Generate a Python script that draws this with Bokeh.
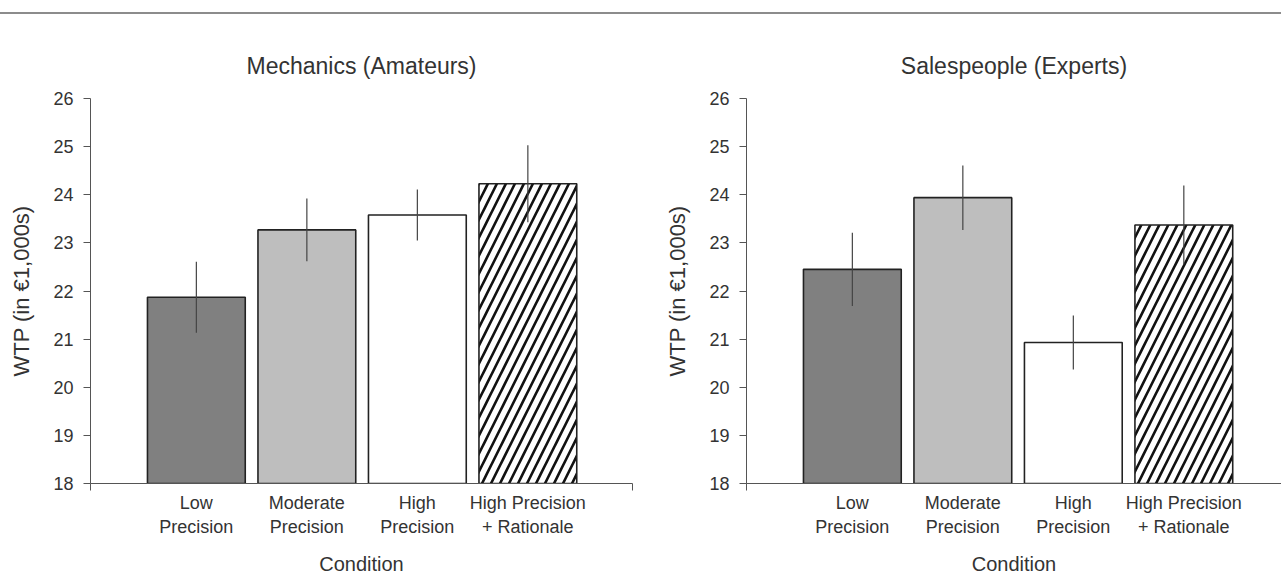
from bokeh.plotting import figure
from bokeh.models import Range1d, FixedTicker, Div, ColumnDataSource
from bokeh.layouts import row, column
from bokeh.embed import file_html
from bokeh.resources import INLINE

# ---- data ----
conditions = ["Low\nPrecision", "Moderate\nPrecision", "High\nPrecision", "High Precision\n+ Rationale"]
positions = [1, 2, 3, 4]
mech_wtp = [21.87, 23.27, 23.58, 24.23]
mech_err = [0.74, 0.65, 0.53, 0.80]
sales_wtp = [22.45, 23.94, 20.93, 23.37]
sales_err = [0.76, 0.67, 0.56, 0.82]
bar_fills = ["#808080", "#bebebe", "#ffffff", "#ffffff"]
bar_hatch = [" ", " ", " ", "/"]
y_ticks = [18, 19, 20, 21, 22, 23, 24, 25, 26]

FONT = "'Liberation Sans', Arial, sans-serif"
X_START = 0.042
AXIS_COLOR = "#555555"
TEXT_COLOR = "#333333"


def make_panel(title, wtp, err, width, x_end, right_border, end_tick):
    src = ColumnDataSource(dict(
        x=positions, top=wtp,
        lo=[m - e for m, e in zip(wtp, err)],
        hi=[m + e for m, e in zip(wtp, err)],
        fill=bar_fills, hatch=bar_hatch,
    ))
    p = figure(width=width, height=563,
               x_range=Range1d(X_START, x_end), y_range=Range1d(18, 26),
               output_backend="svg", toolbar_location=None,
               min_border_left=90, min_border_right=right_border,
               min_border_top=84, min_border_bottom=94)
    p.outline_line_color = None
    p.grid.visible = False
    p.background_fill_color = "white"

    p.vbar(x="x", top="top", bottom=18, width=0.885, source=src,
           fill_color="fill", line_color="#222222", line_width=1.6,
           hatch_pattern="hatch", hatch_color="#111111", hatch_scale=18,
           hatch_weight=2.6)
    p.segment(x0="x", y0="lo", x1="x", y1="hi", source=src,
              line_color="#444444", line_width=1.2)

    p.title.text = title
    p.title.align = "center"
    p.title.text_font = FONT
    p.title.text_font_size = "23px"
    p.title.text_font_style = "normal"
    p.title.text_color = TEXT_COLOR
    p.title.standoff = 39

    ya = p.yaxis[0]
    ya.ticker = FixedTicker(ticks=y_ticks)
    ya.major_tick_out = 7
    ya.major_tick_in = 0
    ya.minor_tick_out = 0
    ya.minor_tick_in = 0
    ya.major_label_standoff = 10
    ya.major_label_text_font = FONT
    ya.major_label_text_font_size = "18px"
    ya.major_label_text_color = TEXT_COLOR
    ya.axis_label = "WTP (in €1,000s)"
    ya.axis_label_text_font = FONT
    ya.axis_label_text_font_size = "22px"
    ya.axis_label_text_font_style = "normal"
    ya.axis_label_text_color = TEXT_COLOR
    ya.axis_label_text_line_height = 1.0
    ya.axis_label_standoff = 16
    ya.axis_line_color = AXIS_COLOR
    ya.major_tick_line_color = AXIS_COLOR

    xa = p.xaxis[0]
    minor = [X_START + 1e-6] + ([x_end - 1e-6] if end_tick else [])
    xa.ticker = FixedTicker(ticks=positions, minor_ticks=minor)
    xa.major_label_overrides = {pos: lab for pos, lab in zip(positions, conditions)}
    xa.major_tick_out = 0
    xa.major_tick_in = 0
    xa.minor_tick_out = 7
    xa.minor_tick_in = 0
    xa.minor_tick_line_color = AXIS_COLOR
    xa.major_label_standoff = 2
    xa.major_label_text_font = FONT
    xa.major_label_text_font_size = "18px"
    xa.major_label_text_color = TEXT_COLOR
    xa.major_label_text_line_height = 1.2
    xa.axis_label = "Condition"
    xa.axis_label_text_font = FONT
    xa.axis_label_text_font_size = "20px"
    xa.axis_label_text_font_style = "normal"
    xa.axis_label_text_color = TEXT_COLOR
    xa.axis_label_text_line_height = 1.0
    xa.axis_label_standoff = 13
    xa.axis_line_color = AXIS_COLOR
    return p


left = make_panel("Mechanics (Amateurs)", mech_wtp, mech_err, 656, 4.947, 24, True)
right = make_panel("Salespeople (Experts)", sales_wtp, sales_err, 625, 4.884, 0, False)

top_rule = Div(text="", width=1281, height=14, margin=(0, 0, 0, 0),
               styles={"border-bottom": "2px solid #8c8c8c", "box-sizing": "border-box"})

layout = column(top_rule, row(left, right))

open("out.html", "w").write(file_html(layout, INLINE))
